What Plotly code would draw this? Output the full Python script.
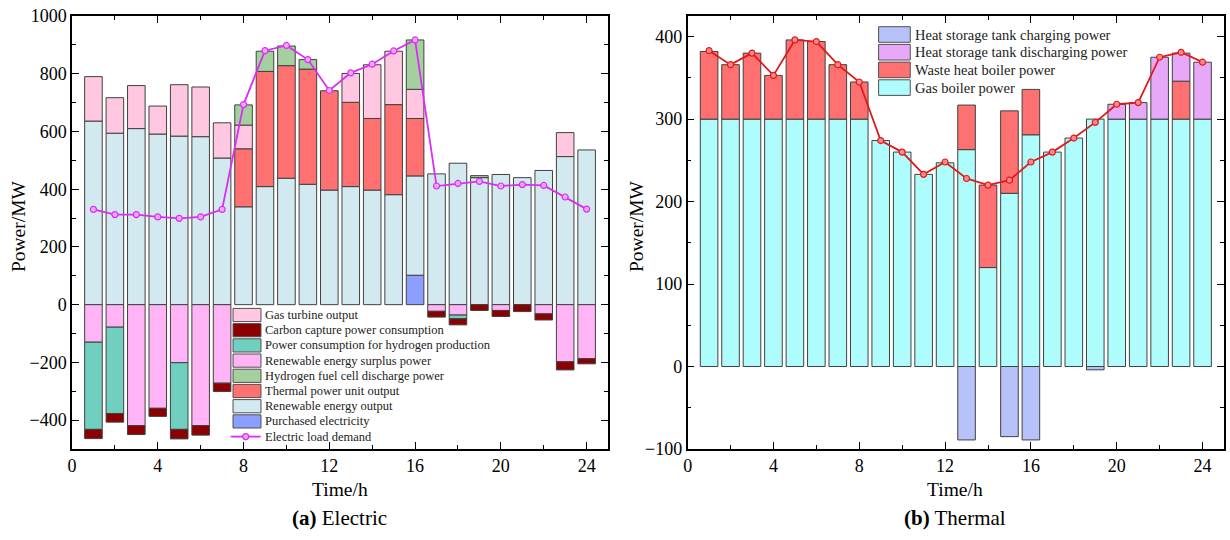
import plotly.graph_objects as go

# ---------------- data ----------------
hours = list(range(1, 25))

# (a) Electric, MW
purchased = [None]*15 + [102] + [None]*8
renewable = [636, 594, 610, 591, 584, 582, 508, 339, 409, 438, 417, 397,
             409, 397, 381, 344, 453, 490, 440, 451, 440, 465, 513, 536]
thermal = [None]*7 + [201, 399, 390, 399, 344, 292, 248, 312, 199] + [None]*8
gas_turbine = [154, 123, 149, 97, 178, 172, 122, 82, None, None, None, None,
               100, 186, 185, 101, None, None, None, None, None, None, 83, None]
fuel_cell = [None]*7 + [70, 70, 68, 33, None, None, None, None, 171,
                        None, None, 7, None, None, None, None, None]
surplus = [-130, -78, -419, -359, -201, -419, -272] + [None]*9 + \
          [-23, -36, None, -20, None, -32, -198, -187]
h2_production = [-302, -299, None, None, -231, None, None] + [None]*9 + \
                [None, -13, None, None, None, None, None, None]
carbon_capture = [-32, -30, -31, -28, -33, -33, -29] + [None]*9 + \
                 [-20, -21, -20, -21, -24, -21, -28, -18]
electric_load = [330, 312, 312, 304, 299, 304, 330, 693, 880, 898, 849, 742,
                 803, 833, 879, 917, 411, 420, 427, 411, 416, 413, 373, 331]

# (b) Thermal, MW
gas_boiler = [300]*8 + [274, 260, 233, 247, 263, 120, 210, 281,
                        260, 277, 300, 300, 300, 300, 300, 300]
waste_heat = [82, 66, 80, 53, 96, 94, 66, 45, None, None, None, None,
              54, 100, 100, 55, None, None, None, None, None, None, 46, None]
discharging = [None]*19 + [18, 20, 75, 34, 69]
charging = [None]*12 + [-89, None, -85, -89, None, None, -4, None, None, None, None, None]
heat_load = [383, 366, 380, 353, 396, 394, 366, 345, 274, 260, 233, 248,
             228, 220, 226, 248, 260, 277, 296, 318, 320, 375, 381, 369]

left_legend = ["Gas turbine output", "Carbon capture power consumption",
               "Power consumption for hydrogen production", "Renewable energy surplus power",
               "Hydrogen fuel cell discharge power", "Thermal power unit output",
               "Renewable energy output", "Purchased electricity"]
right_legend = ["Heat storage tank charging power", "Heat storage tank discharging power",
                "Waste heat boiler power", "Gas boiler power"]

# ---------------- styles ----------------
FONT = "Liberation Serif"
C = {
    "gas_turbine": "#FFC8E0", "carbon": "#8B0000", "h2": "#70CFBE",
    "surplus": "#FFB4F6", "fc": "#A6CFA0", "thermal": "#FF7070",
    "renew": "#D2E9F0", "purchased": "#8C9EFF",
    "charge": "#B8C2FA", "discharge": "#E8A8F8", "waste": "#FF7070", "boiler": "#AFFCFC",
}
EDGE = dict(color="#404040", width=1)
BW = 0.82

fig = go.Figure()

def bar(y, color, name, xa="x", ya="y"):
    fig.add_trace(go.Bar(x=hours, y=y, name=name, width=BW, xaxis=xa, yaxis=ya,
                         marker=dict(color=color, line=EDGE), showlegend=False))

# left: positives bottom->top, negatives top->bottom
bar(purchased, C["purchased"], "Purchased electricity")
bar(renewable, C["renew"], "Renewable energy output")
bar(thermal, C["thermal"], "Thermal power unit output")
bar(gas_turbine, C["gas_turbine"], "Gas turbine output")
bar(fuel_cell, C["fc"], "Hydrogen fuel cell discharge power")
bar(surplus, C["surplus"], "Renewable energy surplus power")
bar(h2_production, C["h2"], "Power consumption for hydrogen production")
bar(carbon_capture, C["carbon"], "Carbon capture power consumption")
fig.add_trace(go.Scatter(x=hours, y=electric_load, mode="lines+markers", name="Electric load demand",
                         line=dict(color="#D92EF2", width=1.8),
                         marker=dict(size=6, color="#F3A6FF", line=dict(color="#D92EF2", width=1.2)),
                         showlegend=False, xaxis="x", yaxis="y"))

# right
bar(gas_boiler, C["boiler"], "Gas boiler power", "x2", "y2")
bar(waste_heat, C["waste"], "Waste heat boiler power", "x2", "y2")
bar(discharging, C["discharge"], "Heat storage tank discharging power", "x2", "y2")
bar(charging, C["charge"], "Heat storage tank charging power", "x2", "y2")
fig.add_trace(go.Scatter(x=hours, y=heat_load, mode="lines+markers", name="Heat load demand",
                         line=dict(color="#E01A1A", width=1.8),
                         marker=dict(size=6, color="#FF8A8A", line=dict(color="#E01A1A", width=1.2)),
                         showlegend=False, xaxis="x2", yaxis="y2"))

# ---------------- axes ----------------
ML, MR, MT, MB = 72, 4, 16, 91
W, H = 1230, 540
PW, PH = W - ML - MR, H - MT - MB

def X(px):
    return (px - ML) / PW

def Y(py):
    return (H - MB - py) / PH

tickfont = dict(family=FONT, size=18, color="black")
common = dict(showline=True, linecolor="black", linewidth=1.5, mirror="ticks",
              ticks="inside", ticklen=7, tickwidth=1.3, tickcolor="black",
              showgrid=False, zeroline=False, tickfont=tickfont)

def minor(d):
    return dict(dtick=d, ticks="inside", ticklen=4, tickwidth=1.3, tickcolor="black", showgrid=False)

fig.update_layout(
    width=W, height=H, barmode="relative",
    margin=dict(l=ML, r=MR, t=MT, b=MB),
    plot_bgcolor="white", paper_bgcolor="white",
    showlegend=False,
    xaxis=dict(domain=[0, X(609)], range=[0, 25], tick0=0, dtick=4, minor=minor(2),
               anchor="y", **common),
    yaxis=dict(range=[-500, 1000], tick0=0, dtick=200, minor=minor(100), anchor="x", **common),
    xaxis2=dict(domain=[X(688.7), 1], range=[0, 25], tick0=0, dtick=4, minor=minor(2),
                anchor="y2", **common),
    yaxis2=dict(range=[-100, 425], tick0=0, dtick=100, minor=minor(50), anchor="x2", **common),
)

annotations = []
shapes = []

def text(x, y, s, size, xanchor="center", angle=0, color="black"):
    annotations.append(dict(x=X(x), y=Y(y), xref="paper", yref="paper", text=s, showarrow=False,
                            xanchor=xanchor, yanchor="middle", textangle=angle,
                            font=dict(family=FONT, size=size, color=color)))

# axis titles & captions
text(340, 490, "Time/h", 19.5)
text(957, 490, "Time/h", 19.5)
text(18, 226, "Power/MW", 19.5, angle=-90)
text(637, 226, "Power/MW", 19.5, angle=-90)
text(340, 518, "<b>(a)</b> Electric", 21)
text(957, 518, "<b>(b)</b> Thermal", 21)

# left legend
left_colors = [C["gas_turbine"], C["carbon"], C["h2"], C["surplus"], C["fc"],
               C["thermal"], C["renew"], C["purchased"]]
for i, (lab, col) in enumerate(zip(left_legend, left_colors)):
    cy = 315 + i * 15.2
    shapes.append(dict(type="rect", xref="paper", yref="paper",
                       x0=X(233.3), x1=X(261.3), y0=Y(cy + 6.6), y1=Y(cy - 6.6),
                       fillcolor=col, line=dict(color="#505050", width=1)))
    text(263, cy, lab, 12.5, xanchor="left", color="#222")
cy = 315 + 8 * 15.2
shapes.append(dict(type="line", xref="paper", yref="paper", x0=X(231), x1=X(261),
                   y0=Y(cy), y1=Y(cy), line=dict(color="#D92EF2", width=1.8)))
shapes.append(dict(type="circle", xref="paper", yref="paper", x0=X(243), x1=X(249),
                   y0=Y(cy + 3), y1=Y(cy - 3), fillcolor="#F3A6FF",
                   line=dict(color="#D92EF2", width=1.2)))
text(263, cy, "Electric load demand", 12.5, xanchor="left", color="#222")

# right legend
right_colors = [C["charge"], C["discharge"], C["waste"], C["boiler"]]
for i, (lab, col) in enumerate(zip(right_legend, right_colors)):
    cy = 34.5 + i * 17.7
    shapes.append(dict(type="rect", xref="paper", yref="paper",
                       x0=X(880), x1=X(911.7), y0=Y(cy + 7.8), y1=Y(cy - 7.8),
                       fillcolor=col, line=dict(color="#505050", width=1)))
    text(914, cy, lab, 14.5, xanchor="left", color="#222")

fig.update_layout(annotations=annotations, shapes=shapes)
fig.write_html("out.html")
